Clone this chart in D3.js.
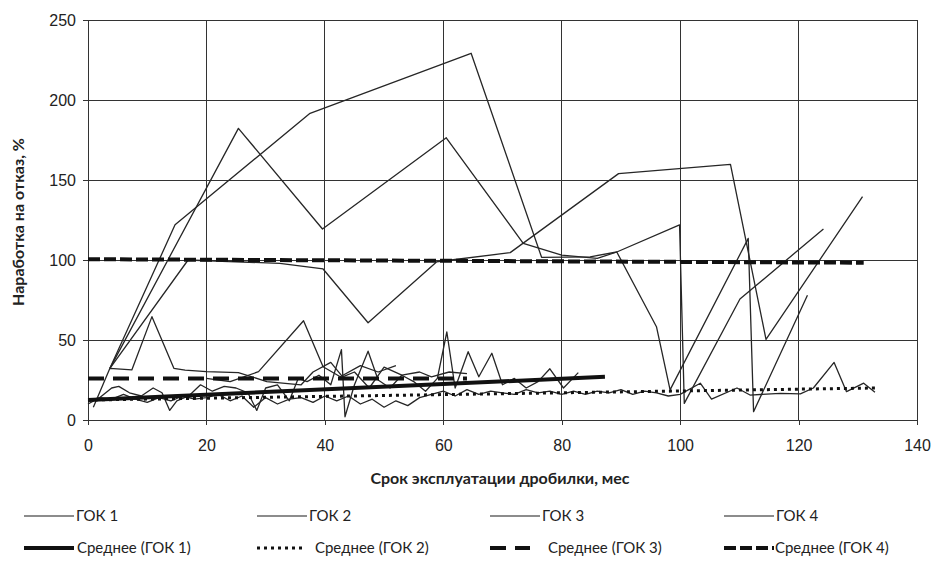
<!DOCTYPE html>
<html lang="ru">
<head>
    <meta charset="UTF-8">
    <title>Наработка на отказ</title>
    <script src="https://d3js.org/d3.v7.min.js"></script>
    <style>
        body {
            margin: 0;
            padding: 0;
            background: #fff;
            font-family: Lato, "Open Sans", sans-serif;
        }

        .axis text {
            font-size: 16px;
            fill: #222;
        }

        .axis line,
        .axis path {
            stroke: #333;
            shape-rendering: crispEdges;
        }

        .grid line {
            stroke: #333;
            shape-rendering: crispEdges;
        }

        .series {
            fill: none;
            stroke: #262626;
            stroke-width: 1.3;
            stroke-linejoin: round;
        }

        .title {
            font-size: 16px;
            font-weight: bold;
            fill: #222;
        }

        .legend text {
            font-size: 15px;
            fill: #222;
        }
    </style>
</head>
<body>

<svg id="chart" width="935" height="582"></svg>

<script>
    const xTicks = [0, 20, 40, 60, 80, 100, 120, 140];
    const yTicks = [0, 50, 100, 150, 200, 250];

    // ГОК 1 (month, %)
    const gok1 = [
        [0, 10], [2, 14], [4, 20], [5.2, 21], [7, 17], [9, 15], [11, 20], [12.5, 17],
        [13.8, 6], [15, 12], [17, 15], [19, 22], [21, 18], [23, 21], [25, 20], [27, 17],
        [28.5, 6], [30, 20], [32, 22], [34, 12], [35.5, 26], [37, 24], [39, 28], [41, 22],
        [42.8, 44], [43.4, 2], [45, 22], [47.3, 43], [49, 25], [51, 20], [53, 28], [55, 24],
        [57, 18], [59, 26], [60.6, 55], [62, 20], [64.2, 42.7], [66, 27], [68.2, 41.7],
        [70, 22], [72, 26], [74, 20], [76, 24], [78, 32], [80.3, 20], [82.8, 29.6]
    ];

    // ГОК 2
    const gok2 = [
        [0, 12], [2, 14], [4, 13], [6, 16], [8, 13], [10, 11], [12, 14], [14, 12],
        [16, 15], [18, 13], [20, 14], [22, 16], [24, 12], [26, 15], [28, 8], [30, 14],
        [32, 10], [34, 13], [36, 14], [38, 11], [40, 15], [42, 12], [44, 15], [46, 10],
        [48, 13], [50, 8], [52, 12], [54, 9], [56, 14], [58, 16], [60, 18], [62, 15],
        [64, 19], [66, 16], [68, 18], [70, 17], [72, 16], [74, 19], [76, 17], [78, 18],
        [80, 16], [82, 18], [84, 16], [86, 18], [88, 17], [90, 19], [92, 16], [94, 18],
        [96, 17], [98, 15], [100, 16], [103.4, 23], [105.3, 13], [109.6, 20], [111.8, 15.6],
        [116.9, 16.7], [120.3, 16.3], [122.5, 20], [126, 36], [128.1, 17.7], [131, 23], [132.9, 17.3]
    ];

    // ГОК 3
    const gok3 = [
        [0.9, 8], [3.7, 32.3], [7.4, 31.3], [10.8, 64.6], [14.5, 32.3], [16.4, 31.2],
        [20, 30.2], [25.4, 29.6], [30.2, 24], [33.3, 22.9], [36, 22], [38, 30], [41, 36],
        [43, 27], [45, 30], [47.5, 20], [50, 33], [53, 28], [56, 30], [58, 27], [61, 30], [64, 29]
    ];
    const gok3b = [
        [20, 26], [24, 24], [28.8, 30.2], [36.4, 62], [39.7, 33.3], [42.6, 27], [46, 34], [49, 30], [52, 34]
    ];

    // ГОК 4 (три дробилки)
    const gok4a = [
        [3.7, 32.3], [14.7, 122], [37.5, 191.7], [64.7, 229.2], [76.6, 101.7], [84.8, 102],
        [89.3, 105], [99.9, 122], [100.7, 10.4], [110.1, 75.6], [124.2, 119.4]
    ];
    const gok4b = [
        [3.7, 32.3], [25.4, 182.3], [39.6, 119.4], [60.5, 176.4], [73.5, 110.4], [80, 103],
        [86, 101], [89.3, 105], [96, 58.3], [98.3, 18.8], [111.5, 113.5], [112.4, 5.2], [121.5, 78]
    ];
    const gok4c = [
        [3.7, 32.3], [16.9, 100], [32.4, 97.9], [39.7, 94.4], [47.3, 60.8], [58.9, 98.9],
        [71.3, 104.6], [89.6, 154], [108.5, 159.8], [114.5, 50.4], [130.8, 139.6]
    ];

    // средние
    const avg1 = [[0, 12.5], [87.3, 27]];
    const avg2 = [[0, 12.5], [133, 20]];
    const avg3 = [[0, 26], [64, 26]];
    const avg4 = [[0, 100.5], [131, 98.3]];

    const seriesNames = ["ГОК 1", "ГОК 2", "ГОК 3", "ГОК 4"];
    const avgNames = ["Среднее (ГОК 1)", "Среднее (ГОК 2)", "Среднее (ГОК 3)", "Среднее (ГОК 4)"];

    const margin = { top: 20, right: 18, bottom: 162, left: 88 };
    const width = 935;
    const height = 582;

    const svg = d3.select("#chart");

    const x = d3.scaleLinear()
        .domain([0, 140])
        .range([margin.left, width - margin.right]);

    const y = d3.scaleLinear()
        .domain([0, 250])
        .range([height - margin.bottom, margin.top]);

    // сетка
    svg.append("g")
        .attr("class", "grid")
        .selectAll("line.v")
        .data(xTicks)
        .join("line")
        .attr("x1", d => x(d)).attr("x2", d => x(d))
        .attr("y1", y(0)).attr("y2", y(250));

    svg.append("g")
        .attr("class", "grid")
        .selectAll("line.h")
        .data(yTicks)
        .join("line")
        .attr("x1", x(0)).attr("x2", x(140))
        .attr("y1", d => y(d)).attr("y2", d => y(d));

    // оси
    svg.append("g")
        .attr("class", "axis")
        .attr("transform", `translate(0,${y(0)})`)
        .call(d3.axisBottom(x).tickValues(xTicks).tickSize(5).tickSizeOuter(0).tickPadding(15));

    svg.append("g")
        .attr("class", "axis")
        .attr("transform", `translate(${x(0)},0)`)
        .call(d3.axisLeft(y).tickValues(yTicks).tickSize(5).tickSizeOuter(0).tickPadding(7));

    const line = d3.line()
        .x(d => x(d[0]))
        .y(d => y(d[1]));

    // данные
    [gok1, gok2, gok3, gok3b, gok4a, gok4b, gok4c].forEach(s => {
        svg.append("path")
            .attr("class", "series")
            .attr("d", line(s));
    });

    // средние линии
    const avgStyles = [
        { data: avg1, width: 4, dash: null },
        { data: avg2, width: 3, dash: "3,4" },
        { data: avg3, width: 4, dash: "16,9" },
        { data: avg4, width: 4, dash: "12,4" }
    ];

    avgStyles.forEach(s => {
        svg.append("path")
            .attr("d", line(s.data))
            .attr("fill", "none")
            .attr("stroke", "#111")
            .attr("stroke-width", s.width)
            .attr("stroke-dasharray", s.dash);
    });

    // подписи осей
    svg.append("text")
        .attr("class", "title")
        .attr("x", 500)
        .attr("y", 484)
        .attr("text-anchor", "middle")
        .text("Срок эксплуатации дробилки, мес");

    svg.append("text")
        .attr("class", "title")
        .attr("transform", "translate(24,222) rotate(-90)")
        .attr("text-anchor", "middle")
        .text("Наработка на отказ, %");

    // легенда
    const legendX = [24, 257, 490, 724];
    const legend = svg.append("g").attr("class", "legend");

    seriesNames.forEach((name, i) => {
        legend.append("line")
            .attr("x1", legendX[i]).attr("x2", legendX[i] + 50)
            .attr("y1", 516).attr("y2", 516)
            .attr("stroke", "#666")
            .attr("stroke-width", 1.3);
        legend.append("text")
            .attr("x", legendX[i] + 52)
            .attr("y", 521)
            .text(name);
    });

    avgNames.forEach((name, i) => {
        const s = avgStyles[i];
        const len = i === 1 ? 46 : (i === 2 ? 40 : 50);
        legend.append("line")
            .attr("x1", legendX[i]).attr("x2", legendX[i] + len)
            .attr("y1", 548).attr("y2", 548)
            .attr("stroke", "#111")
            .attr("stroke-width", s.width)
            .attr("stroke-dasharray", s.dash);
        legend.append("text")
            .attr("x", legendX[i] + (i === 0 ? 53 : (i === 3 ? 51 : 58)))
            .attr("y", 553)
            .text(name);
    });
</script>

</body>
</html>
